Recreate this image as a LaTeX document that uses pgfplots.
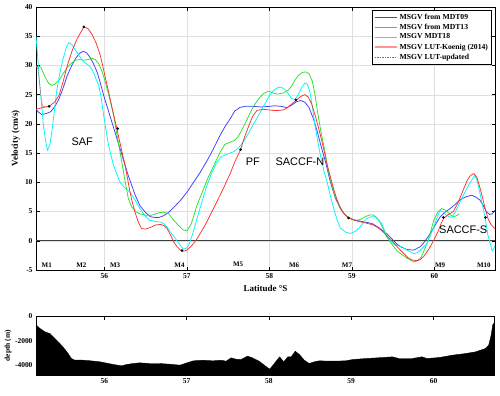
\documentclass[border=0pt]{standalone}
\usepackage{fontspec}
\setmainfont{Liberation Serif}
\newfontfamily\arial{Liberation Sans}
\usepackage{pgfplots}
\pgfplotsset{compat=1.18}
\definecolor{cNine}{RGB}{60,60,250}
\definecolor{cThirteen}{RGB}{40,225,40}
\definecolor{cEighteen}{RGB}{0,245,245}
\definecolor{cLut}{RGB}{250,50,50}
\definecolor{cLutLeg}{RGB}{250,150,150}
\tikzset{
  mlab/.style={font=\fontsize{7}{8}\selectfont\bfseries, inner sep=0pt},
  front/.style={font=\arial\fontsize{11}{12}\selectfont, inner sep=0pt},
}
\pgfplotsset{
  matlab/.style={
    scale only axis,
    anchor=south west,
    xmin=55.17, xmax=60.735,
    tick align=inside,
    major tick length=3.5bp,
    axis line style={line width=0.5pt},
    every tick/.style={black, line width=0.4pt},
    tick label style={font=\fontsize{7.5}{9}\selectfont\bfseries},
    /pgf/number format/assume math mode=true,
    label style={font=\fontsize{9}{10}\selectfont\bfseries},
    xtick={56,57,58,59,60},
  },
}
\begin{document}
\begin{tikzpicture}[x=1bp,y=1bp]
\path[use as bounding box] (0,0) rectangle (500,395);
%% velocity panel
\begin{axis}[matlab,
  at={(36bp,125bp)},
  width=459bp, height=263bp,
  ymin=-5, ymax=40,
  ytick={-5,0,5,10,15,20,25,30,35,40},
  grid=major,
  grid style={line width=0.3pt, draw=gray!25},
  xlabel={Latitude \textdegree S},
  ylabel={Velocity (cm/s)},
  xlabel style={at={(axis description cs:0.5,-0.072)}, anchor=center},
  ylabel style={at={(axis description cs:-0.044,0.5)}, anchor=center},
  legend style={font=\fontsize{7.7}{8.5}\selectfont\bfseries,
                at={(0.993,0.989)}, anchor=north east,
                inner sep=2bp, nodes={inner sep=1.6bp}},
  legend cell align=left,
  legend image code/.code={\draw[#1] (0bp,0bp) -- (22bp,0bp);},
]
\draw[line width=1.3pt, draw=black!75] (axis cs:55.17,0) -- (axis cs:60.735,0);

\addplot[line width=0.75pt, draw=cNine,
  legend image post style={line width=1.1pt, draw=cNine}] coordinates {
(55.17,22.5) (55.20,22.0) (55.24,21.6) (55.30,21.8) (55.35,22.1) (55.40,23.0)
(55.45,24.3) (55.50,26.2) (55.55,28.3) (55.60,29.9) (55.65,31.2) (55.70,32.1)
(55.74,32.4) (55.78,32.2) (55.82,31.5) (55.86,30.5) (55.91,28.9) (55.95,27.0)
(55.99,24.9) (56.04,22.6) (56.09,20.3) (56.14,18.0) (56.19,15.7) (56.24,13.4)
(56.29,11.1) (56.33,9.5) (56.37,7.9) (56.43,6.0) (56.50,4.8) (56.56,4.1)
(56.61,4.0) (56.66,4.0) (56.72,4.3) (56.78,4.9) (56.84,5.7) (56.92,6.9)
(57.00,8.3) (57.08,10.0) (57.16,11.7) (57.24,13.6) (57.32,15.7) (57.40,18.0)
(57.46,19.5) (57.53,21.0) (57.58,22.2) (57.64,22.8) (57.70,23.0) (57.80,23.0)
(57.90,22.9) (58.00,23.0) (58.07,23.1) (58.14,23.0) (58.21,22.8) (58.27,23.2)
(58.33,23.8) (58.38,24.0) (58.43,23.7) (58.48,22.8) (58.53,21.0) (58.58,18.7)
(58.62,16.5) (58.68,13.5) (58.74,10.0) (58.80,7.3) (58.86,5.5) (58.92,4.4)
(58.98,3.8) (59.05,3.5) (59.12,3.3) (59.20,3.1) (59.26,2.85) (59.34,2.1)
(59.42,1.25) (59.48,0.4) (59.54,-0.5) (59.60,-1.1) (59.67,-1.5) (59.75,-1.6)
(59.83,-1.0) (59.89,0.0) (59.95,1.25) (60.01,2.7) (60.07,4.1) (60.13,4.9)
(60.19,5.5) (60.25,6.2) (60.31,7.0) (60.38,7.5) (60.45,7.8) (60.50,7.5)
(60.55,7.0) (60.59,6.1) (60.63,5.0) (60.67,4.5) (60.70,4.6) (60.735,5.2)
};
\addlegendentry{MSGV from MDT09}

\addplot[line width=0.75pt, draw=cThirteen,
  legend image post style={line width=1.1pt, draw=cThirteen}] coordinates {
(55.17,29.7) (55.20,29.9) (55.23,29.7) (55.28,28.0) (55.32,27.0) (55.36,26.6)
(55.40,26.8) (55.45,27.5) (55.50,28.6) (55.55,29.7) (55.60,30.4) (55.65,30.9)
(55.70,31.0) (55.75,30.9) (55.80,31.0) (55.85,31.2) (55.89,31.0) (55.93,30.3)
(55.97,29.0) (56.01,27.2) (56.06,24.5) (56.11,21.5) (56.16,17.5) (56.21,13.5)
(56.25,10.2) (56.29,7.2) (56.33,5.8) (56.38,5.0) (56.43,4.6) (56.50,4.4)
(56.55,4.3) (56.60,4.5) (56.66,4.8) (56.72,4.9) (56.78,4.6) (56.84,3.5)
(56.90,2.6) (56.95,1.9) (57.00,1.7) (57.05,2.8) (57.12,6.0) (57.19,8.5)
(57.26,10.9) (57.33,13.0) (57.40,15.1) (57.46,16.5) (57.53,16.9) (57.58,17.2)
(57.62,17.8) (57.66,18.8) (57.72,20.5) (57.77,22.0) (57.82,23.3) (57.87,24.3)
(57.93,25.2) (57.99,25.6) (58.04,25.3) (58.10,25.1) (58.17,25.3) (58.23,25.8)
(58.27,26.5) (58.31,27.5) (58.35,28.3) (58.40,28.8) (58.44,28.9) (58.48,28.6)
(58.52,27.3) (58.55,25.2) (58.58,22.4) (58.62,19.0) (58.67,15.5) (58.72,11.5)
(58.78,8.2) (58.84,6.2) (58.89,4.9) (58.94,4.1) (59.00,3.7) (59.06,3.5)
(59.11,3.7) (59.16,4.1) (59.21,4.4) (59.26,4.4) (59.30,4.0) (59.34,3.2)
(59.38,2.0) (59.42,0.7) (59.48,-0.5) (59.54,-1.6) (59.60,-2.3) (59.67,-3.0)
(59.75,-3.6) (59.80,-3.4) (59.84,-2.8) (59.89,-1.2) (59.94,0.8) (59.99,3.4)
(60.04,4.9) (60.09,5.5) (60.14,5.2) (60.19,4.5) (60.23,4.1) (60.27,4.3)
(60.30,4.6)
};
\addlegendentry{MSGV from MDT13}

\addplot[line width=0.75pt, draw=cEighteen,
  legend image post style={line width=1.1pt, draw=cEighteen}] coordinates {
(55.17,35.0) (55.19,31.5) (55.21,27.5) (55.24,23.0) (55.26,19.7) (55.29,16.8)
(55.31,15.5) (55.34,16.5) (55.37,19.5) (55.42,25.5) (55.46,28.8) (55.50,31.2)
(55.54,33.2) (55.57,33.9) (55.61,33.5) (55.65,32.6) (55.69,31.7) (55.75,30.6)
(55.81,30.0) (55.85,29.3) (55.88,28.3) (55.93,26.6) (55.96,24.5) (55.99,21.5)
(56.02,18.8) (56.05,16.3) (56.11,12.9) (56.19,10.0) (56.25,9.0) (56.31,8.3)
(56.37,7.0) (56.43,5.5) (56.49,4.3) (56.55,3.5) (56.62,3.3) (56.68,3.2)
(56.72,2.9) (56.76,2.3) (56.82,1.1) (56.88,0.0) (56.93,-1.0) (56.96,-1.4)
(56.99,-1.3) (57.02,-0.8) (57.07,1.2) (57.12,3.7) (57.18,6.6) (57.24,9.4)
(57.30,11.6) (57.36,13.4) (57.42,14.4) (57.48,14.8) (57.56,15.2) (57.62,15.8)
(57.66,16.5) (57.70,17.3) (57.75,18.5) (57.80,19.8) (57.85,21.0) (57.90,22.3)
(57.95,23.6) (58.00,24.8) (58.05,25.7) (58.10,26.2) (58.14,26.3) (58.18,26.0)
(58.22,25.3) (58.27,24.3) (58.31,24.2) (58.35,25.0) (58.39,26.2) (58.43,27.0)
(58.46,26.8) (58.49,25.5) (58.52,23.0) (58.55,20.0) (58.58,17.5) (58.62,14.5)
(58.66,12.0) (58.70,10.0) (58.74,7.6) (58.78,5.5) (58.82,3.6) (58.86,2.2)
(58.92,1.5) (58.98,1.25) (59.04,1.6) (59.10,2.4) (59.14,3.1) (59.18,3.8)
(59.23,4.1) (59.28,4.1) (59.32,3.6) (59.36,3.0) (59.40,1.6) (59.44,0.4)
(59.48,-0.2) (59.52,-0.7) (59.60,-1.0) (59.67,-1.6) (59.75,-2.2) (59.80,-2.0)
(59.83,-1.6) (59.88,-0.9) (59.91,-0.5) (59.96,1.2) (60.01,3.0) (60.04,4.3)
(60.07,5.2) (60.11,4.9) (60.15,4.3) (60.21,4.0) (60.25,4.8) (60.29,6.0)
(60.33,7.2) (60.37,8.3) (60.41,9.4) (60.45,10.3) (60.49,11.2) (60.52,10.2)
(60.55,8.3) (60.58,6.3) (60.61,4.3) (60.65,0.9) (60.68,-0.6) (60.70,-1.7)
(60.72,-1.4) (60.735,-0.8)
};
\addlegendentry{MSGV MDT18}

\addplot[line width=0.75pt, draw=cLut,
  legend image post style={line width=2.2pt, draw=cLutLeg}] coordinates {
(55.17,22.5) (55.25,22.8) (55.33,23.0) (55.40,23.8) (55.45,24.9) (55.50,27.3)
(55.55,30.0) (55.61,32.6) (55.67,34.6) (55.75,36.6) (55.80,36.3) (55.85,35.3)
(55.90,33.8) (55.95,31.7) (56.00,28.6) (56.05,25.5) (56.10,22.3) (56.15,19.2)
(56.20,16.0) (56.25,12.9) (56.30,9.1) (56.33,7.0) (56.37,4.9) (56.41,3.2)
(56.45,2.1) (56.50,2.0) (56.56,2.3) (56.62,2.7) (56.68,2.8) (56.72,2.6)
(56.76,2.1) (56.80,1.0) (56.84,-0.2) (56.88,-1.0) (56.92,-1.6) (56.96,-1.8)
(57.00,-1.6) (57.06,-0.8) (57.12,0.3) (57.18,1.7) (57.24,3.2) (57.30,4.9)
(57.36,6.6) (57.44,8.9) (57.53,11.7) (57.58,13.5) (57.65,15.6) (57.70,17.8)
(57.75,19.7) (57.80,21.4) (57.85,22.3) (57.92,22.5) (57.99,22.4) (58.05,22.3)
(58.11,22.3) (58.17,22.4) (58.21,22.7) (58.27,23.4) (58.33,24.1) (58.38,24.7)
(58.43,25.0) (58.47,24.6) (58.51,23.5) (58.56,21.2) (58.61,18.5) (58.66,15.6)
(58.70,13.0) (58.74,10.9) (58.78,8.8) (58.82,7.0) (58.86,5.7) (58.90,4.7)
(58.96,3.9) (59.03,3.5) (59.10,3.25) (59.18,3.0) (59.26,2.7) (59.32,2.2)
(59.38,1.5) (59.44,0.6) (59.50,-0.2) (59.56,-1.2) (59.63,-2.2) (59.68,-2.9)
(59.73,-3.3) (59.79,-3.4) (59.83,-3.2) (59.87,-2.7) (59.92,-1.7) (59.97,-0.5)
(60.01,0.6) (60.05,1.8) (60.08,2.9) (60.11,3.8) (60.17,4.5) (60.23,5.0)
(60.29,6.6) (60.35,8.7) (60.40,10.4) (60.44,11.2) (60.48,11.5) (60.52,10.7)
(60.55,9.2) (60.58,7.6) (60.61,5.8) (60.65,3.8) (60.69,2.7) (60.735,2.1)
};
\addlegendentry{MSGV LUT-Koenig (2014)}

\addplot[line width=0.5pt, draw=cLut, dash pattern=on 1.5pt off 1pt,
  legend image post style={line width=0.6pt, draw=cLut}] coordinates {
(55.17,30.0) (55.19,29.6) (55.21,27.5) (55.23,24.8) (55.25,23.0) (55.33,23.0)
};
\addlegendentry{MSGV LUT-updated}

%% mooring positions on the LUT curve
\addplot[forget plot, only marks, mark=*, mark size=1.1pt, black] coordinates {
(55.33,23.0) (55.75,36.6) (56.16,19.2) (56.94,-1.65) (57.65,15.6)
(58.32,24.1) (58.96,3.9) (60.11,4.0) (60.62,4.0)
};

\node[front] at (axis cs:55.73,17.0) {SAF};
\node[front] at (axis cs:57.80,13.5) {PF};
\node[front] at (axis cs:58.37,13.5) {SACCF-N};
\node[front] at (axis cs:60.35,1.9) {SACCF-S};

\node[mlab] at (axis cs:55.30,-4.1) {M1};
\node[mlab] at (axis cs:55.72,-4.1) {M2};
\node[mlab] at (axis cs:56.13,-4.1) {M3};
\node[mlab] at (axis cs:56.91,-4.1) {M4};
\node[mlab] at (axis cs:57.62,-4.1) {M5};
\node[mlab] at (axis cs:58.30,-4.1) {M6};
\node[mlab] at (axis cs:58.94,-4.1) {M7};
\node[mlab] at (axis cs:60.07,-4.1) {M9};
\node[mlab] at (axis cs:60.60,-4.1) {M10};
\end{axis}

%% bathymetry panel
\begin{axis}[matlab,
  at={(36bp,20bp)},
  width=458bp, height=59bp,
  ymin=-4800, ymax=0,
  ytick={-4000,-2000,0},
  ylabel={depth (m)},
  ylabel style={font=\fontsize{7.5}{9}\selectfont\bfseries,
                at={(axis description cs:-0.061,0.5)}, anchor=center},
  scaled y ticks=false,
  yticklabel style={/pgf/number format/.cd, fixed, 1000 sep={}},
]
\addplot[fill=black, draw=black, line width=0.4pt] coordinates {
(55.17,-6000) (55.17,-703) (55.22,-1027) (55.28,-1297) (55.34,-1432)
(55.40,-1838) (55.46,-2243) (55.52,-2703) (55.56,-3054) (55.60,-3459)
(55.64,-3595) (55.74,-3595) (55.84,-3649) (55.95,-3730) (56.03,-3838)
(56.11,-3946) (56.21,-4054) (56.27,-3946) (56.35,-3865) (56.43,-3811)
(56.55,-3865) (56.67,-3865) (56.79,-3919) (56.92,-4000) (56.98,-3865)
(57.08,-3649) (57.20,-3595) (57.32,-3649) (57.42,-3595) (57.48,-3676)
(57.54,-3405) (57.60,-3514) (57.66,-3541) (57.74,-3270) (57.80,-3405)
(57.88,-3676) (57.97,-4135) (58.01,-4324) (58.05,-4000) (58.13,-3324)
(58.18,-3730) (58.23,-3324) (58.27,-3324) (58.32,-2865) (58.37,-3135)
(58.43,-3595) (58.49,-3865) (58.55,-3730) (58.61,-3649) (58.77,-3676)
(58.93,-3649) (59.02,-3541) (59.18,-3459) (59.38,-3378) (59.50,-3324)
(59.58,-3459) (59.74,-3459) (59.86,-3324) (59.92,-3459) (60.07,-3378)
(60.23,-3189) (60.39,-3054) (60.51,-2919) (60.63,-2649) (60.67,-2378)
(60.70,-1568) (60.72,-703) (60.735,-600) (60.735,-6000)
} -- cycle;
\end{axis}
\end{tikzpicture}
\end{document}
